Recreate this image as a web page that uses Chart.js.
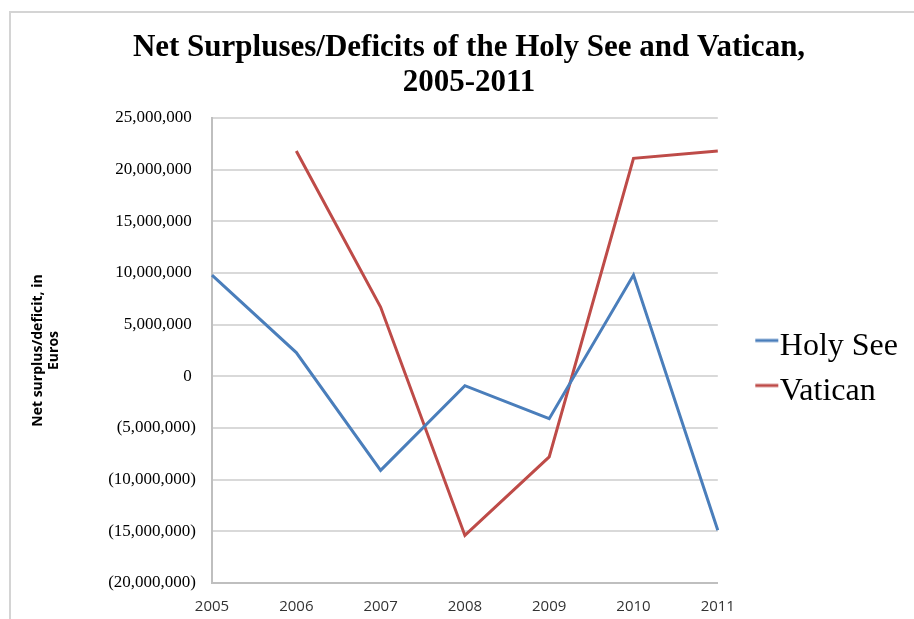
<!DOCTYPE html>
<html>
<head>
<meta charset="utf-8">
<script src="https://cdn.jsdelivr.net/npm/chart.js@4/dist/chart.umd.min.js"></script>
<style>
html,body{margin:0;padding:0;background:#fff;}
#wrap{position:relative;width:914px;height:619px;}
</style>
</head>
<body>
<div id="wrap"><canvas id="c" width="914" height="619"></canvas></div>
<script>
const years = ["2005","2006","2007","2008","2009","2010","2011"];
const holySee = [9800000, 2300000, -9100000, -900000, -4100000, 9800000, -14900000];
const vatican = [null, 21800000, 6700000, -15400000, -7800000, 21100000, 21800000];
const seriesNames = ["Holy See", "Vatican"];
const seriesColors = ["#4a7ebb", "#be4b48"];
const titleLines = ["Net Surpluses/Deficits of the Holy See and Vatican,", "2005-2011"];
const yTitleLines = ["Net surplus/deficit, in", "Euros"];

function fmt(v){
  const s = Math.abs(v).toLocaleString('en-US');
  if (v < 0) return '(' + s + ')';
  return s + '\u2005';
}

// short legend line marker, drawn offset so it sits just before the label text
function legendMarker(color){
  const c = document.createElement('canvas');
  c.width = 64; c.height = 20;
  const g = c.getContext('2d');
  g.fillStyle = color;
  g.fillRect(40, 2.5, 23, 3);
  return c;
}

const frame = {
  id: 'frame',
  beforeDraw(chart){
    const ctx = chart.ctx;
    ctx.save();
    ctx.strokeStyle = '#d4d4d4';
    ctx.lineWidth = 2;
    ctx.strokeRect(10, 12, 1000, 700);
    ctx.restore();
  }
};

new Chart(document.getElementById('c'), {
  type: 'line',
  data: {
    labels: years,
    datasets: [
      {label: seriesNames[0], data: holySee, borderColor: seriesColors[0], backgroundColor: seriesColors[0], borderWidth: 3, pointRadius: 0, pointStyle: legendMarker(seriesColors[0]), tension: 0},
      {label: seriesNames[1], data: vatican, borderColor: seriesColors[1], backgroundColor: seriesColors[1], borderWidth: 3, pointRadius: 0, pointStyle: legendMarker(seriesColors[1]), tension: 0}
    ]
  },
  options: {
    responsive: false,
    animation: false,
    layout: {padding: {left: 30, right: 6, top: 0, bottom: 3}},
    plugins: {
      title: {
        display: true,
        text: titleLines,
        color: '#000',
        font: {family: "'Liberation Serif', 'Times New Roman', serif", size: 31, weight: 'bold', lineHeight: 35/31},
        padding: {top: 30.5, bottom: 17.5}
      },
      legend: {
        position: 'right',
        title: {display: true, text: '', font: {size: 10, lineHeight: 1}, padding: {top: 112, bottom: 0}},
        labels: {
          usePointStyle: true,
          pointStyleWidth: 33,
          color: '#000',
          padding: 13,
          font: {family: "'Liberation Serif', 'Times New Roman', serif", size: 32}
        }
      },
      tooltip: {enabled: false}
    },
    scales: {
      x: {
        offset: false,
        grid: {display: false, drawTicks: false},
        border: {color: '#bfbfbf', width: 2},
        ticks: {color: '#333', padding: 15, maxRotation: 0, font: {family: "'Open Sans', 'Liberation Sans', sans-serif", size: 15}},
        afterFit: s => { s.height = 33; }
      },
      y: {
        min: -20000000,
        max: 25000000,
        grid: {color: '#d9d9d9', lineWidth: 2, drawTicks: false},
        border: {color: '#bfbfbf', width: 2},
        ticks: {stepSize: 5000000, color: '#000', padding: 16, callback: v => fmt(v), font: {family: "'Liberation Serif', 'Times New Roman', serif", size: 17}},
        title: {display: true, text: yTitleLines, color: '#000', padding: {top: 0, bottom: 0}, font: {family: "'Open Sans', 'Liberation Sans', sans-serif", size: 14, weight: 'bold', lineHeight: 16/14}},
        afterFit: s => { s.width = 212 - 30; }
      }
    }
  },
  plugins: [frame]
});
</script>
</body>
</html>
